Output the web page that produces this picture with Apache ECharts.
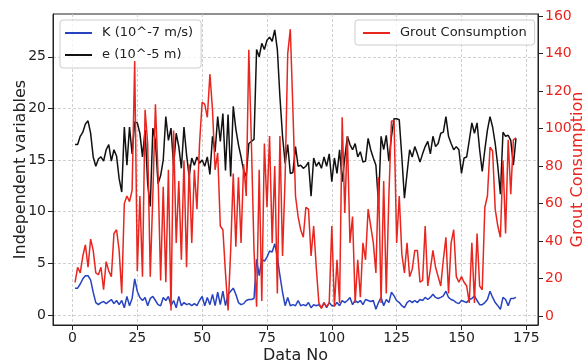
<!DOCTYPE html>
<html>
<head>
<meta charset="utf-8">
<script src="https://cdn.jsdelivr.net/npm/echarts@6/dist/echarts.min.js"></script>
<style>
  html, body { margin: 0; padding: 0; background: #fff; }
  #chart { width: 586px; height: 364px; }
</style>
</head>
<body>
<div id="chart"></div>
<script>
// values, one per data number (1..171)
const kValues = [
  2.6, 2.6, 3.0, 3.5, 3.8, 3.8, 3.4, 2.2, 1.2, 1.0,
  1.2, 1.3, 1.1, 1.3, 1.5, 1.1, 1.4, 1.0, 1.4, 0.7,
  1.8, 0.9, 1.6, 3.5, 2.3, 1.7, 1.4, 1.7, 0.9, 1.6,
  1.8, 1.4, 1.0, 0.9, 1.7, 1.4, 1.8, 0.9, 1.4, 0.7,
  1.8, 0.9, 1.2, 1.0, 1.1, 0.9, 1.1, 0.9, 1.4, 1.8,
  0.9, 1.7, 1.0, 2.0, 0.9, 2.2, 1.0, 2.3, 0.9, 2.0,
  2.3, 2.6, 2.0, 1.2, 1.0, 1.1, 1.4, 1.5, 1.5, 1.6,
  5.4, 3.8, 5.4, 5.2, 5.6, 6.2, 6.1, 6.9, 5.6, 3.8,
  2.2, 0.9, 1.7, 0.9, 1.0, 0.9, 1.4, 0.9, 1.0, 0.9,
  1.2, 0.7, 1.0, 0.9, 1.0, 0.7, 1.2, 0.7, 1.2, 0.9,
  0.9, 1.2, 0.9, 1.4, 1.2, 1.4, 1.7, 1.0, 1.4, 1.2,
  1.4, 1.0, 1.5, 1.4, 1.3, 1.4, 0.55, 1.2, 1.7, 0.9,
  1.5, 1.2, 2.2, 1.85, 1.4, 1.2, 0.9, 0.7, 1.2, 1.4,
  1.2, 1.4, 1.2, 1.5, 1.4, 1.7, 1.5, 1.7, 2.0, 1.7,
  1.6, 1.7, 1.85, 2.3, 1.7, 1.5, 1.4, 1.2, 1.1, 1.4,
  1.3, 1.2, 1.5, 1.6, 1.85, 1.4, 1.0, 1.0, 1.2, 1.5,
  2.3, 1.7, 1.2, 0.9, 0.55, 1.7, 1.5, 0.9, 1.6, 1.6, 1.7
];
const eValues = [
  16.5, 16.5, 17.3, 17.7, 18.5, 18.8, 17.6, 15.3, 14.4, 15.1,
  15.3, 14.9, 16.0, 16.5, 14.9, 16.0, 15.4, 13.2, 11.9, 18.2,
  14.5, 18.2, 15.6, 18.7, 18.6, 17.6, 15.3, 17.9, 12.7, 10.5,
  18.1, 16.8, 12.7, 13.5, 15.0, 19.2, 16.9, 18.1, 14.4, 17.6,
  16.3, 14.2, 18.2, 15.5, 13.4, 15.2, 14.5, 15.3, 14.7, 15.0,
  14.4, 15.3, 13.6, 17.3, 15.8, 19.2, 16.8, 19.5, 14.0, 19.4,
  13.4, 20.2, 18.0, 16.5, 15.3, 14.0, 13.4, 16.6, 16.8, 17.0,
  25.7, 25.0, 26.3, 25.7, 26.6, 26.9, 26.5, 27.6, 25.7, 21.1,
  17.3, 14.7, 16.5, 13.7, 13.8, 16.3, 14.4, 14.5, 14.2, 14.4,
  14.8, 11.5, 15.2, 14.4, 14.8, 14.2, 15.3, 14.4, 15.6, 12.9,
  15.2, 13.7, 16.0, 12.9, 15.2, 17.3, 16.5, 16.0, 16.6, 15.3,
  15.8, 14.8, 14.9, 17.1, 16.0, 15.2, 14.5, 10.8, 17.3, 16.0,
  17.4, 14.9, 17.3, 19.0, 19.0, 18.9, 15.3, 11.3, 13.7, 16.0,
  15.3, 16.3, 15.6, 14.8, 15.6, 16.3, 16.8, 15.6, 17.3, 16.3,
  16.6, 17.6, 17.7, 19.2, 17.3, 16.6, 16.0, 16.3, 16.0, 13.7,
  15.2, 15.3, 16.9, 18.6, 17.6, 18.6, 16.0, 13.9, 16.0, 17.9,
  19.2, 18.2, 16.6, 14.4, 11.7, 17.7, 17.3, 17.4, 16.9, 14.5, 17.1
];
const groutValues = [
  18, 26, 23, 32, 38, 26, 41, 35, 23, 22,
  26, 14, 29, 24, 21, 44, 46, 35, 12, 60,
  64, 61, 67, 136, 24, 64, 21, 110, 92, 21,
  65, 113, 76, 19, 69, 18, 78, 3, 99, 39,
  72, 30, 83, 26, 81, 39, 78, 57, 92, 114,
  113, 106, 129, 110, 78, 87, 48, 46, 23, 3,
  35, 76, 37, 74, 39, 81, 64, 142, 92, 35,
  5, 78, 8, 92, 58, 96, 39, 80, 12, 96,
  32, 74, 140, 153, 110, 64, 53, 46, 42, 58,
  57, 32, 48, 26, 7, 4, 7, 5, 7, 48,
  5, 30, 7, 106, 55, 96, 39, 53, 7, 30,
  10, 39, 30, 57, 48, 39, 23, 74, 7, 72,
  12, 64, 104, 104, 39, 64, 33, 23, 39, 21,
  25, 35, 35, 18, 19, 48, 16, 25, 35, 26,
  21, 16, 30, 42, 12, 39, 46, 21, 18, 21,
  18, 16, 7, 39, 7, 44, 16, 14, 58, 64,
  90, 88, 57, 48, 42, 83, 44, 94, 65, 94, 95
];
const dataNo = kValues.map((_, i) => i + 1);

const xTicks = [0, 25, 50, 75, 100, 125, 150, 175];
const leftTicks = [0, 5, 10, 15, 20, 25];
const rightTicks = [0, 20, 40, 60, 80, 100, 120, 140, 160];

const FONT = "DejaVu Sans";
const INK = "#222";
const RED = "#e8261f";
const BLUE = "#2743c0";
const gridLine = { show: true, lineStyle: { color: "#c4c4c4", type: [3, 2], width: 0.8 } };

const legendBox = {
  orient: "vertical",
  icon: "rect",
  itemWidth: 27,
  itemHeight: 2,
  backgroundColor: "rgba(255,255,255,0.8)",
  borderColor: "#cccccc",
  borderWidth: 1,
  borderRadius: 3,
  textStyle: { fontFamily: FONT, fontSize: 13, color: INK, lineHeight: 16, padding: [0, 0, 0, 5] }
};

const chart = echarts.init(document.getElementById("chart"), null, { renderer: "canvas" });

chart.setOption({
  animation: false,
  backgroundColor: "#fff",
  grid: {
    left: 53, right: 48, top: 14, bottom: 39,
    show: true, borderColor: INK, borderWidth: 1,
    outerBoundsMode: "none"
  },
  legend: [
    Object.assign({}, legendBox, {
      data: ["K (10^-7 m/s)", "e (10^-5 m)"],
      left: 60, top: 20,
      itemGap: 6,
      padding: [5, 8, 5, 5],
      z: 3
    }),
    Object.assign({}, legendBox, {
      data: ["Grout Consumption"],
      left: 355, top: 20,
      padding: [5, 8, 4, 8],
      z: 5
    })
  ],
  xAxis: {
    type: "value",
    min: -7.5, max: 179.5,
    name: "Data No",
    nameLocation: "middle",
    nameGap: 23,
    nameMoveOverlap: false,
    nameTextStyle: { fontFamily: FONT, fontSize: 16, color: INK },
    axisLine: { show: true, onZero: false, lineStyle: { color: INK, width: 1 } },
    axisTick: { show: true, length: 5, customValues: xTicks, lineStyle: { color: INK } },
    axisLabel: { customValues: xTicks, fontFamily: FONT, fontSize: 14, color: INK, margin: 6 },
    splitLine: gridLine
  },
  yAxis: [
    {
      type: "value",
      position: "left",
      min: -0.97, max: 29.14,
      name: "Independent variables",
      nameLocation: "middle",
      nameGap: 24,
      nameMoveOverlap: false,
      nameTextStyle: { fontFamily: FONT, fontSize: 16, color: INK },
      axisLine: { show: true, onZero: false, lineStyle: { color: INK, width: 1 } },
      axisTick: { show: true, length: 5, customValues: leftTicks, lineStyle: { color: INK } },
      axisLabel: { customValues: leftTicks, fontFamily: FONT, fontSize: 14, color: INK, margin: 7 },
      splitLine: gridLine
    },
    {
      type: "value",
      position: "right",
      min: -4.8, max: 161.1,
      name: "Grout Consumption",
      nameLocation: "middle",
      nameGap: 32,
      nameMoveOverlap: false,
      nameTextStyle: { fontFamily: FONT, fontSize: 16, color: RED },
      axisLine: { show: true, onZero: false, lineStyle: { color: INK, width: 1 } },
      axisTick: { show: true, length: 5, customValues: rightTicks, lineStyle: { color: INK } },
      axisLabel: { customValues: rightTicks, fontFamily: FONT, fontSize: 14, color: RED, margin: 7 },
      splitLine: { show: false }
    }
  ],
  series: [
    {
      name: "K (10^-7 m/s)",
      type: "line",
      yAxisIndex: 0,
      symbol: "none",
      lineStyle: { color: BLUE, width: 1.5 },
      itemStyle: { color: BLUE },
      z: 2,
      data: kValues.map((v, i) => [dataNo[i], v])
    },
    {
      name: "e (10^-5 m)",
      type: "line",
      yAxisIndex: 0,
      symbol: "none",
      lineStyle: { color: "#111", width: 1.5 },
      itemStyle: { color: "#111" },
      z: 2,
      data: eValues.map((v, i) => [dataNo[i], v])
    },
    {
      name: "Grout Consumption",
      type: "line",
      yAxisIndex: 1,
      symbol: "none",
      lineStyle: { color: RED, width: 1.5 },
      itemStyle: { color: RED },
      z: 4,
      data: groutValues.map((v, i) => [dataNo[i], v])
    }
  ]
});
</script>
</body>
</html>
